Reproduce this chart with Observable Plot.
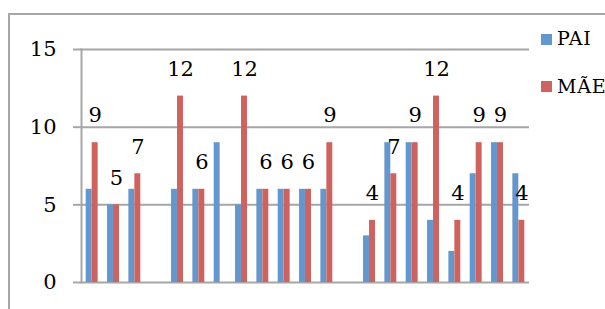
<!DOCTYPE html>
<html>
<head>
<meta charset="utf-8">
<script src="https://cdn.jsdelivr.net/npm/d3@7"></script>
<script src="https://cdn.jsdelivr.net/npm/@observablehq/plot@0.6"></script>
<style>
  html, body { margin: 0; padding: 0; background: #fff; }
  #wrap { position: relative; width: 605px; height: 309px; overflow: hidden; }
  #frame { position: absolute; left: 8px; top: 13px; width: 700px; height: 400px;
           border-left: 2px solid #a6a6a6; border-top: 2px solid #a6a6a6; }
  #chart { position: absolute; left: 0; top: 0; }
  .leg { position: absolute; left: 541px; font-family: "DejaVu Serif", serif; font-size: 19px; letter-spacing: 0.8px; color: #000; }
  .leg span.sw { position: absolute; left: 0; width: 11px; height: 11px; }
  .leg span.tx { position: absolute; left: 16px; white-space: nowrap; line-height: 1; }
</style>
</head>
<body>
<div id="wrap">
  <div id="frame"></div>
  <div id="chart"></div>
  <div class="leg" style="top:34px"><span class="sw" style="background:#6497cd"></span><span class="tx" style="top:-5px">PAI</span></div>
  <div class="leg" style="top:81px"><span class="sw" style="background:#cd625f"></span><span class="tx" style="top:-4px">MÃE</span></div>
</div>
<script>
const categories = d3.range(1, 22);
const pai = [6, 5, 6, 0, 6, 6, 9, 5, 6, 6, 6, 6, 0, 3, 9, 9, 4, 2, 7, 9, 7];
const mae = [9, 5, 7, 0, 12, 6, 0, 12, 6, 6, 6, 9, 0, 4, 7, 9, 12, 4, 9, 9, 4];
const yTicks = [0, 5, 10, 15];
const series = ["PAI", "MÃE"];
const colors = ["#6497cd", "#cd625f"];

const paiData = categories.map((c, i) => ({cat: c, value: pai[i]}));
const maeData = categories.map((c, i) => ({cat: c, value: mae[i]}));

const chart = Plot.plot({
  width: 605,
  height: 309,
  marginLeft: 81,
  marginRight: 76,
  marginTop: 49,
  marginBottom: 27,
  style: {fontFamily: "'DejaVu Serif', serif", fontSize: "21px", color: "#000", background: "transparent"},
  x: {domain: categories, paddingInner: 0.44, paddingOuter: 0.22, round: false, axis: null},
  y: {domain: [0, 15], ticks: yTicks, axis: null},
  marks: [
    Plot.gridY(yTicks, {stroke: "#a6a6a6", strokeWidth: 2, strokeOpacity: 1}),
    Plot.axisY({ticks: yTicks, label: null, tickSize: 8, tickPadding: 17, stroke: "#a6a6a6", strokeWidth: 2, fontSize: 21, fill: "#000", textStroke: "none"}),
    Plot.frame({anchor: "left", stroke: "#a6a6a6", strokeWidth: 2}),
    Plot.barY(paiData, {x: "cat", y: "value", fill: colors[0], insetRight: 6, insetLeft: 0}),
    Plot.barY(maeData, {x: "cat", y: "value", fill: colors[1], insetLeft: 6, insetRight: 0}),
    Plot.text(maeData.filter(d => d.value > 0), {x: "cat", y: "value", text: d => String(d.value), dx: 3, dy: -27, fontSize: 21, fill: "#000"})
  ]
});
document.getElementById("chart").appendChild(chart);
</script>
</body>
</html>
